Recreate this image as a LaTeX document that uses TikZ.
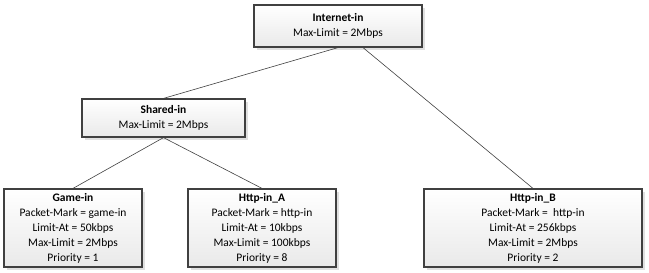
\documentclass[tikz,border=0pt]{standalone}
\usepackage{fontspec}
\setmainfont{Carlito}
\usepackage{tikz}
\usetikzlibrary{shadows}
\definecolor{edgegray}{HTML}{404040}
\definecolor{shadegray}{HTML}{E9E9E9}
\tikzset{
    qbox/.style = {
        rectangle, draw=edgegray, line width=1.2pt,
        top color=white, bottom color=shadegray,
        drop shadow={shadow xshift=3pt, shadow yshift=-3pt, fill=black!12, opacity=1},
        align=center, font=\fontsize{11.5}{15}\selectfont,
        inner sep=0pt
    },
    link/.style = {
        draw=edgegray, line width=0.6pt
    }
}

\begin{document}
\begin{tikzpicture}[x=1pt, y=-1pt]

\useasboundingbox (0,0) rectangle (649,273);

\node (inet) [qbox, minimum width=168pt, minimum height=42pt] at (338,26)
    {\textbf{Internet-in}\\Max-Limit = 2Mbps};
\node (shared) [qbox, minimum width=163pt, minimum height=38pt] at (163.5,118)
    {\textbf{Shared-in}\\Max-Limit = 2Mbps};
\node (game) [qbox, minimum width=138pt, minimum height=78pt] at (73,228)
    {\textbf{Game-in}\\Packet-Mark = game-in\\Limit-At = 50kbps\\Max-Limit = 2Mbps\\Priority = 1};
\node (httpa) [qbox, minimum width=148pt, minimum height=78pt] at (262,228)
    {\textbf{Http-in\_A}\\Packet-Mark = http-in\\Limit-At = 10kbps\\Max-Limit = 100kbps\\Priority = 8};
\node (httpb) [qbox, minimum width=218pt, minimum height=78pt] at (533,228)
    {\textbf{Http-in\_B}\\Packet-Mark = \ http-in\\Limit-At = 256kbps\\Max-Limit = 2Mbps\\Priority = 2};

\draw [link] (inet.south) -- (shared.north);
\draw [link] ([xshift=25pt]inet.south) -- (httpb.north);
\draw [link] (shared.south) -- (game.north);
\draw [link] (shared.south) -- (httpa.north);

\end{tikzpicture}
\end{document}
